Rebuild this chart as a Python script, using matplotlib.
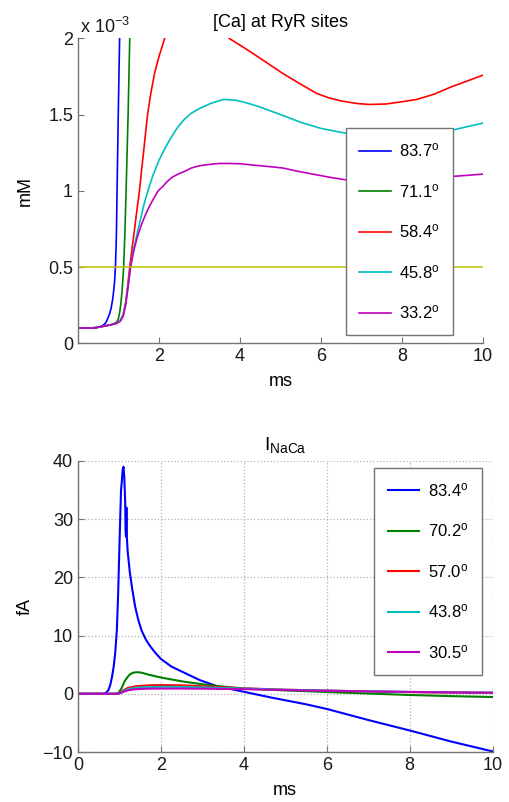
import matplotlib
matplotlib.use("Agg")
import matplotlib.pyplot as plt

plt.rcParams['font.family'] = ['Liberation Sans', 'DejaVu Sans']
plt.rcParams['mathtext.fontset'] = 'custom'
plt.rcParams['mathtext.rm'] = 'Liberation Sans'
plt.rcParams['mathtext.it'] = 'Liberation Sans:italic'
plt.rcParams['font.size'] = 13

# ---- top panel: [Ca] at RyR sites (units of 1e-3 mM) ----
ca_labels = ['83.7', '71.1', '58.4', '45.8', '33.2']

t_ca_blue = [0, 0.3, 0.5, 0.6, 0.66, 0.7, 0.74, 0.78, 0.82, 0.86, 0.89, 0.91, 0.93, 0.95, 0.97,
             1.0, 1.03, 1.06]
ca_blue = [0.1, 0.1, 0.105, 0.115, 0.125, 0.14, 0.165, 0.19, 0.23, 0.29, 0.36, 0.42, 0.52, 0.7, 1.05,
           1.55, 2.0, 2.5]

t_ca_green = [0, 0.4, 0.6, 0.8, 0.9, 0.96, 1.0, 1.03, 1.06, 1.09, 1.11, 1.13, 1.16, 1.19, 1.24,
              1.28, 1.32]
ca_green = [0.1, 0.1, 0.11, 0.12, 0.13, 0.14, 0.16, 0.2, 0.26, 0.34, 0.42, 0.5, 0.72, 1.0, 1.5,
            2.0, 2.4]

t_ca_red = [0, 0.4, 0.6, 0.8, 0.95, 1.05, 1.12, 1.18, 1.23, 1.28, 1.34, 1.4, 1.46, 1.52, 1.57,
            1.62, 1.67, 1.72, 1.8, 1.9, 2.0, 2.14, 2.3, 2.8, 3.3, 3.74, 4.1, 4.5, 5.06, 5.5,
            5.89, 6.2, 6.5, 6.9, 7.2, 7.6, 8.0, 8.36, 8.8, 9.19, 9.6, 10]
ca_red = [0.1, 0.1, 0.11, 0.12, 0.13, 0.15, 0.19, 0.27, 0.38, 0.5, 0.63, 0.75, 0.88, 1.0, 1.13,
          1.25, 1.38, 1.5, 1.64, 1.78, 1.88, 2.0, 2.1, 2.25, 2.15, 2.0, 1.94, 1.87, 1.77, 1.70,
          1.64, 1.61, 1.59, 1.573, 1.567, 1.57, 1.585, 1.60, 1.635, 1.68, 1.72, 1.76]

t_ca_cyan = [0, 0.4, 0.6, 0.8, 0.95, 1.05, 1.12, 1.18, 1.23, 1.3, 1.36, 1.42, 1.48, 1.56, 1.64,
             1.73, 1.85, 2.0, 2.15, 2.3, 2.47, 2.63, 2.8, 3.0, 3.29, 3.59, 3.9, 4.2, 4.5, 4.8,
             5.06, 5.5, 6.0, 6.67, 7.2, 7.8, 8.5, 9.26, 10]
ca_cyan = [0.1, 0.1, 0.11, 0.12, 0.13, 0.15, 0.19, 0.26, 0.36, 0.5, 0.6, 0.67, 0.74, 0.83, 0.92,
           1.0, 1.1, 1.2, 1.28, 1.35, 1.42, 1.47, 1.51, 1.54, 1.575, 1.6, 1.595, 1.575, 1.55, 1.52,
           1.495, 1.45, 1.41, 1.375, 1.36, 1.36, 1.375, 1.40, 1.445]

t_ca_mag = [0, 0.4, 0.6, 0.8, 0.95, 1.05, 1.12, 1.18, 1.23, 1.3, 1.36, 1.41, 1.46, 1.52, 1.6,
            1.68, 1.75, 1.85, 1.98, 2.1, 2.2, 2.33, 2.47, 2.65, 2.8, 3.0, 3.29, 3.5, 3.75, 4.0,
            4.3, 4.7, 5.06, 5.4, 5.8, 6.2, 6.67, 7.0, 7.3, 7.6, 8.0, 8.6, 9.26, 10]
ca_mag = [0.1, 0.1, 0.11, 0.12, 0.13, 0.145, 0.18, 0.25, 0.35, 0.5, 0.58, 0.64, 0.69, 0.74, 0.8,
          0.85, 0.89, 0.94, 1.0, 1.03, 1.06, 1.09, 1.11, 1.13, 1.15, 1.165, 1.175, 1.18, 1.18, 1.178,
          1.17, 1.16, 1.15, 1.13, 1.11, 1.09, 1.07, 1.063, 1.06, 1.06, 1.065, 1.08, 1.095, 1.11]

threshold = 0.5

# ---- bottom panel: I_NaCa (fA) ----
naca_labels = ['83.4', '70.2', '57.0', '43.8', '30.5']

t_i_blue = [0, 0.5, 0.6, 0.65, 0.7, 0.74, 0.78, 0.82, 0.86, 0.9, 0.94, 0.97, 1.0, 1.04, 1.06, 1.08,
            1.1, 1.12, 1.14, 1.15, 1.16, 1.17, 1.18, 1.2, 1.25, 1.31, 1.38, 1.46, 1.54, 1.64, 1.74,
            1.86, 2.0, 2.25, 2.54, 2.94, 3.34, 3.7, 4.0, 4.7, 5.5, 6.0, 7.0, 8.0, 9.0, 10.0]
i_blue = [0, 0, 0.02, 0.08, 0.3, 0.7, 1.5, 2.8, 4.5, 7, 11, 17, 25, 35, 36.5, 38.5,
          39, 37, 33, 28, 27, 32, 27, 24.5, 21, 18, 15, 12.6, 10.8, 9.3, 8.2,
          7.1, 6.0, 4.7, 3.7, 2.35, 1.34, 0.8, 0.35, -0.7, -1.8, -2.6, -4.5, -6.3, -8.2, -9.9]

t_i_green = [0, 0.8, 0.9, 0.97, 1.05, 1.13, 1.2, 1.25, 1.32, 1.4, 1.46, 1.55, 1.7, 2.0, 2.54,
             2.94, 3.34, 4.0, 4.7, 6.0, 7.0, 8.0, 9.0, 10.0]
i_green = [0, 0, 0.02, 0.1, 0.9, 2.2, 2.9, 3.3, 3.6, 3.7, 3.7, 3.6, 3.3, 2.8, 2.1,
           1.7, 1.35, 0.9, 0.67, 0.3, 0.05, -0.2, -0.4, -0.55]

t_i_slow = [0, 0.9, 1.0, 1.1, 1.2, 1.4, 1.7, 2.0, 2.5, 3.0, 4.0, 5.0, 6.0, 7.0, 8.0, 9.0, 10.0]
i_red = [0, 0, 0.1, 0.6, 1.0, 1.3, 1.45, 1.5, 1.45, 1.3, 0.95, 0.7, 0.55, 0.4, 0.3, 0.2, 0.15]
i_cyan = [0, 0, 0.08, 0.45, 0.8, 1.05, 1.15, 1.2, 1.18, 1.1, 0.9, 0.7, 0.55, 0.42, 0.32, 0.25, 0.2]
i_mag = [0, 0, 0.05, 0.35, 0.6, 0.8, 0.88, 0.9, 0.9, 0.88, 0.8, 0.65, 0.52, 0.42, 0.32, 0.25, 0.2]

colors = [(0, 0, 1), (0, 0.5, 0), (1, 0, 0), (0, 0.75, 0.75), (0.75, 0, 0.75)]
spine_col = (0.45, 0.45, 0.45)


def style_axes(ax):
    for s in ['top', 'right']:
        ax.spines[s].set_visible(False)
    for s in ['left', 'bottom']:
        ax.spines[s].set_color(spine_col)
        ax.spines[s].set_linewidth(1.0)
    ax.tick_params(direction='in', length=4, color=spine_col, labelsize=13,
                   labelcolor=(0.1, 0.1, 0.1))


fig = plt.figure(figsize=(5.09, 8.02), dpi=100)

# top
ax1 = fig.add_axes([0.153, 0.572, 0.796, 0.380])
ca_t = [t_ca_blue, t_ca_green, t_ca_red, t_ca_cyan, t_ca_mag]
ca_y = [ca_blue, ca_green, ca_red, ca_cyan, ca_mag]
lines1 = []
for t, y, c, lab in zip(ca_t, ca_y, colors, ca_labels):
    ln, = ax1.plot(t, y, color=c, lw=1.2, label=lab + r'$^{\mathrm{o}}$')
    lines1.append(ln)
ax1.axhline(threshold, color=(0.75, 0.75, 0), lw=1.1)
ax1.set_xlim(0, 10)
ax1.set_ylim(0, 2)
ax1.set_xticks([2, 4, 6, 8, 10])
ax1.set_yticks([0, 0.5, 1, 1.5, 2])
ax1.set_yticklabels(['0', '0.5', '1', '1.5', '2'])
style_axes(ax1)
ax1.set_xlabel('ms', fontsize=13, labelpad=6)
ax1.set_ylabel('mM', fontsize=13, labelpad=10)
ax1.set_title('[Ca] at RyR sites', fontsize=13, pad=8)
ax1.text(0.005, 1.005, r'x 10$^{-3}$', transform=ax1.transAxes, fontsize=13,
         ha='left', va='bottom', color=(0.1, 0.1, 0.1))
leg1 = ax1.legend(handles=lines1, loc='upper right', bbox_to_anchor=(0.926, 0.705),
                  borderaxespad=0, fancybox=False, framealpha=1, edgecolor=spine_col,
                  labelspacing=1.35, handlelength=1.9, handletextpad=0.5,
                  borderpad=0.8, fontsize=12)
leg1.get_frame().set_linewidth(1.0)

# bottom
ax2 = fig.add_axes([0.153, 0.0623, 0.815, 0.363])
i_t = [t_i_blue, t_i_green, t_i_slow, t_i_slow, t_i_slow]
i_y = [i_blue, i_green, i_red, i_cyan, i_mag]
lines2 = []
for t, y, c, lab in zip(i_t, i_y, colors, naca_labels):
    ln, = ax2.plot(t, y, color=c, lw=1.5, label=lab + r'$^{\mathrm{o}}$')
    lines2.append(ln)
ax2.set_xlim(0, 10)
ax2.set_ylim(-10, 40)
ax2.set_xticks([0, 2, 4, 6, 8, 10])
ax2.set_yticks([-10, 0, 10, 20, 30, 40])
ax2.set_yticklabels(['\u221210', '0', '10', '20', '30', '40'])
ax2.grid(True, linestyle=':', color=(0.7, 0.7, 0.7), lw=0.9)
ax2.set_axisbelow(True)
style_axes(ax2)
ax2.set_xlabel('ms', fontsize=13, labelpad=6)
ax2.set_ylabel('fA', fontsize=13, labelpad=6)
ax2.set_title(r'I$_{\mathrm{NaCa}}$', fontsize=14, pad=8)
leg2 = ax2.legend(handles=lines2, loc='upper right', bbox_to_anchor=(0.973, 0.976),
                  borderaxespad=0, fancybox=False, framealpha=1, edgecolor=spine_col,
                  labelspacing=1.35, handlelength=1.9, handletextpad=0.5,
                  borderpad=0.8, fontsize=12)
leg2.get_frame().set_linewidth(1.0)

fig.savefig('out.png', dpi=100)
